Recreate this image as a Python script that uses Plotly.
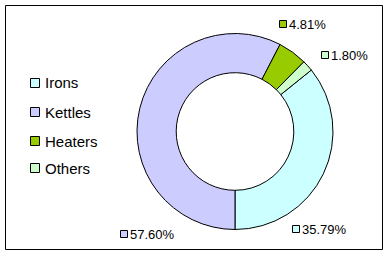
import plotly.graph_objects as go

categories = ["Irons", "Kettles", "Heaters", "Others"]
values = [35.79, 57.60, 4.81, 1.80]
colors = ["#CCFFFF", "#CCCCFF", "#99CC00", "#CCFFCC"]
value_labels = ["35.79%", "57.60%", "4.81%", "1.80%"]

W, H = 390, 255
def px(x):
    return x / W
def py(y):
    return 1 - y / H

# rotation so that first slice (Irons) ends at 6 o'clock going clockwise
rotation = 180 - values[0] / sum(values) * 360

fig = go.Figure(go.Pie(
    labels=categories, values=values, sort=False, direction="clockwise",
    rotation=rotation, hole=0.6, textinfo="none", hoverinfo="label+percent",
    marker=dict(colors=colors, line=dict(color="black", width=1)),
    domain=dict(x=[px(137), px(333)], y=[py(230), py(33)]),
    showlegend=False,
))

shapes = [dict(type="rect", xref="paper", yref="paper",
               x0=px(5.5), x1=px(382.5), y0=py(249.5), y1=py(5.5),
               line=dict(color="black", width=1), fillcolor="rgba(0,0,0,0)")]
annotations = []

# legend (manual)
leg_y = [83, 112, 141, 168]
for name, c, yy in zip(categories, colors, leg_y):
    shapes.append(dict(type="rect", xref="paper", yref="paper",
                       x0=px(30.5), x1=px(39.5), y0=py(yy + 4.5), y1=py(yy - 4.5),
                       line=dict(color="black", width=1), fillcolor=c))
    annotations.append(dict(xref="paper", yref="paper", x=px(43), y=py(yy),
                            text=name, showarrow=False, xanchor="left", yanchor="middle",
                            font=dict(family="Liberation Sans, Arial", size=15, color="black")))

# data labels (manual positions, Excel-style)
lab_pos = {"Irons": (292, 229), "Kettles": (120, 234), "Heaters": (279, 24), "Others": (321, 55)}
for name, c, t in zip(categories, colors, value_labels):
    x0, yy = lab_pos[name]
    shapes.append(dict(type="rect", xref="paper", yref="paper",
                       x0=px(x0 + 0.5), x1=px(x0 + 7.5), y0=py(yy + 3.5), y1=py(yy - 3.5),
                       line=dict(color="black", width=1), fillcolor=c))
    annotations.append(dict(xref="paper", yref="paper", x=px(x0 + 7.5), y=py(yy),
                            text=t, showarrow=False, xanchor="left", yanchor="middle",
                            font=dict(family="Liberation Sans, Arial", size=13, color="black")))

fig.update_layout(width=W, height=H, margin=dict(l=0, r=0, t=0, b=0),
                  paper_bgcolor="white", plot_bgcolor="white",
                  shapes=shapes, annotations=annotations)
fig.write_html("out.html")
